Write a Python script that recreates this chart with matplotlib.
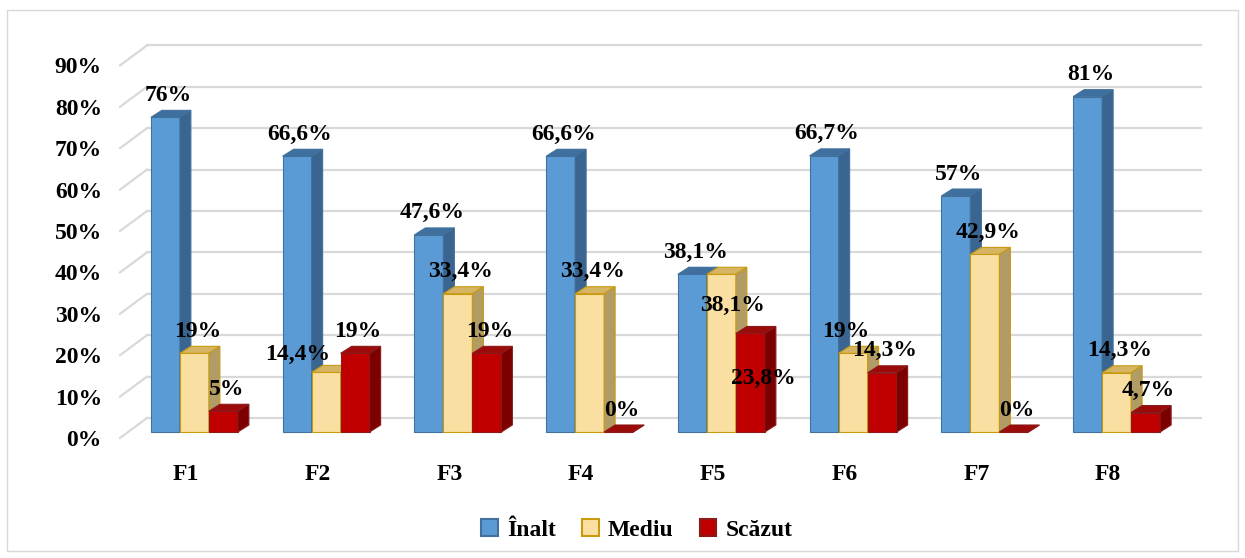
"""
plot.py
3D-style clustered bar chart (Înalt / Mediu / Scăzut) for F1..F8, saved as out.png.
"""

import matplotlib.pyplot as plt
from matplotlib.patches import Polygon, Patch, Rectangle

categories = ["F1", "F2", "F3", "F4", "F5", "F6", "F7", "F8"]
inalt = [76, 66.6, 47.6, 66.6, 38.1, 66.7, 57, 81]
mediu = [19, 14.4, 33.4, 33.4, 38.1, 19, 42.9, 14.3]
scazut = [5, 19, 19, 0, 23.8, 14.3, 0, 4.7]
series_names = ["Înalt", "Mediu", "Scăzut"]
y_ticks = [0, 10, 20, 30, 40, 50, 60, 70, 80, 90]

# front, side, top, edge colours for each series
STYLES = [
    dict(front="#5B9BD5", side="#3A6590", top="#3F6F9E", edge="#41719C"),
    dict(front="#FADFA2", side="#B29C66", top="#D5B564", edge="#C99A0E"),
    dict(front="#C00000", side="#7C0000", top="#9C0A0A", edge="#8B1A1A"),
]

# label nudges (px, relative to bar top centre) where the default would collide
LABEL_NUDGE = {(1, 1): (-28, 18), (4, 1): (11, -31), (4, 2): (13, -45), (5, 1): (-7, 22)}

# layout in pixels
W, H = 1245, 558
X0, X1 = 120, 1174          # front plane left/right
Y0 = 438                     # front plane 0 %
PX_PER_PCT = 4.14
BACK_DX, BACK_DY = 27, 20    # back wall offset
BAR_DX, BAR_DY = 8.5, 6      # bar front plane offset
DEPTH_DX, DEPTH_DY = 11, 7   # bar depth
BAR_W = 29

plt.rcParams["font.family"] = ["Liberation Serif", "DejaVu Serif"]
plt.rcParams["font.weight"] = "bold"
FS = 17


def main():
    fig = plt.figure(figsize=(W / 100, H / 100), dpi=100)
    ax = fig.add_axes([X0 / W, (H - Y0) / H, (X1 - X0) / W, 90 * PX_PER_PCT / H])
    ax.set_xlim(-0.5, len(categories) - 0.5)
    ax.set_ylim(0, 90)
    for s in ax.spines.values():
        s.set_visible(False)

    ux = len(categories) / (X1 - X0)   # data units per px (x)
    uy = 1 / PX_PER_PCT                # data units per px (y)
    xmin, xmax = ax.get_xlim()

    # gridlines on the back wall + left floor stubs
    for t in y_ticks:
        ax.plot([xmin + BACK_DX * ux, xmax + BACK_DX * ux], [t + BACK_DY * uy] * 2,
                color="#D9D9D9", lw=1.6, clip_on=False, zorder=0)
        ax.plot([xmin, xmin + BACK_DX * ux], [t, t + BACK_DY * uy],
                color="#D9D9D9", lw=1.6, clip_on=False, zorder=0)

    ax.set_yticks(y_ticks)
    ax.set_yticklabels([f"{t}%" for t in y_ticks], fontsize=FS, fontweight="bold")
    ax.set_xticks(range(len(categories)))
    ax.set_xticklabels(categories, fontsize=FS, fontweight="bold")
    ax.tick_params(axis="y", length=0, pad=13)
    ax.tick_params(axis="x", length=0, pad=19)

    bw = BAR_W * ux
    dx, dy = DEPTH_DX * ux, DEPTH_DY * uy
    base = BAR_DY * uy
    z = 2
    for i in range(len(categories)):
        for j, values in enumerate([inalt, mediu, scazut]):
            st = STYLES[j]
            h = values[i]
            xl = i + (j - 1.5) * bw + BAR_DX * ux
            xr = xl + bw
            top = base + h
            ax.bar(xl, h, bw, bottom=base, align="edge", color=st["front"],
                   edgecolor=st["edge"], lw=0.8, zorder=z)
            ax.add_patch(Polygon([(xl, top), (xr, top), (xr + dx, top + dy), (xl + dx, top + dy)],
                                 closed=True, fc=st["top"], ec=st["edge"], lw=0.8, zorder=z))
            ax.add_patch(Polygon([(xr, base), (xr, top), (xr + dx, top + dy), (xr + dx, base + dy)],
                                 closed=True, fc=st["side"], ec=st["edge"], lw=0.8, zorder=z))
            z += 1

    # value labels
    for i in range(len(categories)):
        for j, values in enumerate([inalt, mediu, scazut]):
            h = values[i]
            xl = i + (j - 1.5) * bw + BAR_DX * ux
            nx, ny = LABEL_NUDGE.get((i, j), (3, 22))
            txt = f"{h:g}".replace(".", ",") + "%"
            ax.text(xl + bw / 2 + nx * ux, base + h + ny * uy, txt, ha="center", va="center",
                    fontsize=FS, fontweight="bold", zorder=100, clip_on=False)

    handles = [Patch(facecolor=st["front"], edgecolor=st["edge"], lw=1.5) for st in STYLES]
    fig.legend(handles, series_names, loc="center", bbox_to_anchor=(637 / W, 1 - 530 / H),
               ncol=3, frameon=False, prop={"size": FS, "weight": "bold"},
               handlelength=0.7, handleheight=0.7, handletextpad=0.4, columnspacing=1.1)

    fig.patches.append(Rectangle((7 / W, 7 / H), 1 - 14 / W, 1 - 17 / H, transform=fig.transFigure,
                                 fill=False, ec="#D9D9D9", lw=1))

    fig.savefig("out.png", dpi=100)


if __name__ == "__main__":
    main()
